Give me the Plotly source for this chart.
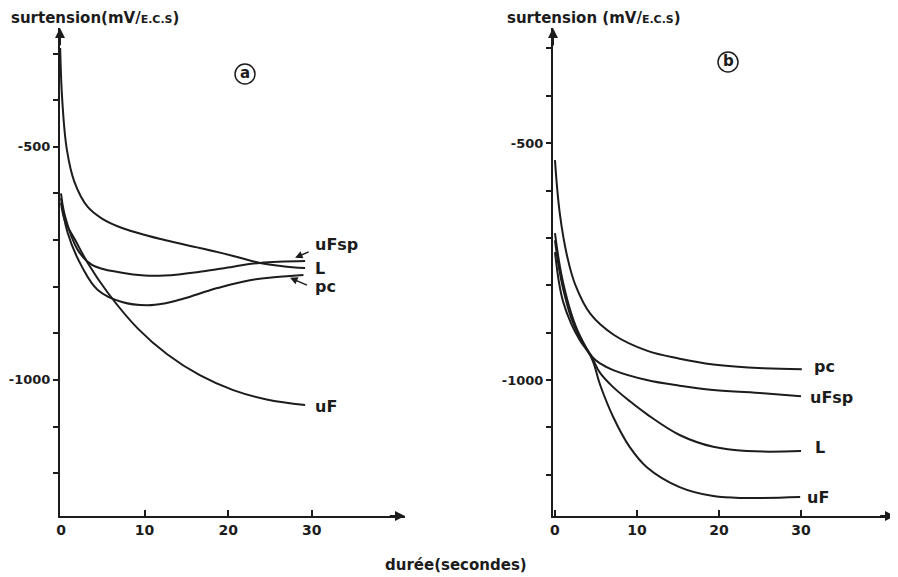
import plotly.graph_objects as go
from plotly.subplots import make_subplots

# panel (a) -- time in s, overvoltage in mV/E.C.S
a_l_t = [-0.1, 0.15, 0.7, 1.6, 3.2, 5.0, 7.3, 12.4, 16.6, 20.6, 23.8, 26.5, 29.2]
a_l_v = [-288, -400, -506, -575, -629, -655, -674, -700, -717, -734, -749, -756, -760]

a_ufsp_t = [0, 0.5, 2.0, 3.7, 7.3, 10.0, 12.4, 16.6, 20.6, 23.8, 29.2]
a_ufsp_v = [-600, -650, -721, -753, -770, -776, -776, -768, -757, -749, -745]

a_pc_t = [0, 0.8, 2.5, 4.4, 7.3, 10.3, 12.4, 14.6, 18.7, 22.6, 27.4, 29.0]
a_pc_v = [-610, -685, -757, -807, -833, -840, -836, -826, -803, -786, -777, -775]

a_uf_t = [0, 0.5, 1.7, 3.2, 5.6, 9.2, 12.7, 16.6, 20.6, 24.6, 29.2]
a_uf_v = [-620, -660, -700, -749, -813, -890, -945, -990, -1022, -1042, -1054]

# panel (b)
b_pc_t = [0, 0.6, 1.5, 2.5, 4.3, 7.2, 11.2, 15.2, 19.3, 25.4, 30.1]
b_pc_v = [-536, -650, -740, -800, -860, -905, -938, -955, -967, -975, -977]

b_ufsp_t = [0, 0.5, 1, 2, 3, 4.5, 5.5, 7.1, 11.2, 15.2, 19.3, 25.4, 30]
b_ufsp_v = [-690, -750, -795, -860, -905, -950, -965, -979, -1000, -1012, -1021, -1028, -1034]

b_l_t = [0, 0.5, 1, 2, 3, 4.5, 5.5, 7.1, 9, 11.2, 15.2, 19.3, 23.4, 30]
b_l_v = [-705, -765, -808, -870, -910, -952, -985, -1015, -1043, -1072, -1116, -1141, -1150, -1150]

b_uf_t = [0, 0.5, 1, 2, 3, 4.5, 5.5, 7.1, 9.1, 11.2, 15.2, 19.3, 23.4, 29.9]
b_uf_v = [-730, -795, -835, -882, -915, -955, -1010, -1078, -1141, -1184, -1226, -1245, -1249, -1247]

x_ticks = [0, 10, 20, 30]
y_ticks = [-300, -400, -500, -600, -700, -800, -900, -1000, -1100, -1200]
y_labels = ['-500', '-1000']

INK = '#1c1c1c'
FONT = 'DejaVu Sans'

# the page body adds an 8px margin, so work in screen pixels minus 8
W, H = 890, 569


def px(x):
    return (x - 8) / W


def py(y):
    return 1 - (y - 8) / H


fig = make_subplots(rows=1, cols=2)

curves = [
    (1, a_l_t, a_l_v), (1, a_ufsp_t, a_ufsp_v), (1, a_pc_t, a_pc_v), (1, a_uf_t, a_uf_v),
    (2, b_pc_t, b_pc_v), (2, b_ufsp_t, b_ufsp_v), (2, b_l_t, b_l_v), (2, b_uf_t, b_uf_v),
]
for col, t, v in curves:
    fig.add_trace(go.Scatter(x=t, y=v, mode='lines', showlegend=False, hoverinfo='skip',
                             line=dict(color=INK, width=2, shape='spline', smoothing=1.1)),
                  row=1, col=col)

xranges = {1: [-0.12, 41.15], 2: [-0.24, 41.46]}
yranges = {1: [-1292, -245], 2: [-1287, -257]}
xdom = {1: [px(60), px(405)], 2: [px(553), px(895)]}
ydom = [py(516), py(28)]

for col in (1, 2):
    ttext = [str(v) if str(v) in y_labels else '' for v in y_ticks]
    fig.update_xaxes(range=xranges[col], domain=xdom[col], showgrid=False, zeroline=False,
                     showline=True, linecolor=INK, linewidth=2, tickvals=x_ticks,
                     ticks='inside', ticklen=6, tickwidth=2, tickcolor=INK, automargin=False,
                     tickfont=dict(family=FONT, size=14, color=INK, weight='bold'), row=1, col=col)
    fig.update_yaxes(range=yranges[col], domain=ydom, showgrid=False, zeroline=False,
                     showline=True, linecolor=INK, linewidth=2, tickvals=y_ticks, ticktext=ttext,
                     ticks='outside', ticklen=5, tickwidth=2, tickcolor=INK, automargin=False,
                     tickfont=dict(family=FONT, size=13, color=INK, weight='bold'), row=1, col=col)
    xr = 'x' if col == 1 else 'x2'
    yr = 'y' if col == 1 else 'y2'
    x0, x1 = xranges[col]
    y0, y1 = yranges[col]
    # arrow heads on both axes
    fig.add_annotation(x=x1, y=y0, ax=x1 - 2, ay=y0, xref=xr, yref=yr, axref=xr, ayref=yr,
                       showarrow=True, arrowhead=2, arrowsize=1, arrowwidth=2, arrowcolor=INK, text='')
    fig.add_annotation(x=x0, y=y1, ax=x0, ay=y1 - 40, xref=xr, yref=yr, axref=xr, ayref=yr,
                       showarrow=True, arrowhead=2, arrowsize=1, arrowwidth=2, arrowcolor=INK, text='')

lab = dict(family=FONT, size=16, color=INK, weight='bold')
title_font = dict(family=FONT, size=15, color=INK, weight='bold')

# axis titles
fig.add_annotation(x=px(9), y=py(18), xref='paper', yref='paper', xanchor='left', yanchor='middle',
                   text="surtension(mV/<span style='font-size:11px'>E.C.S</span>)",
                   showarrow=False, font=title_font)
fig.add_annotation(x=px(505), y=py(18), xref='paper', yref='paper', xanchor='left', yanchor='middle',
                   text="surtension (mV/<span style='font-size:11px'>E.C.S</span>)",
                   showarrow=False, font=title_font)
fig.add_annotation(x=px(456), y=py(565), xref='paper', yref='paper', xanchor='center', yanchor='middle',
                   text='durée(secondes)', showarrow=False, font=title_font)

# panel letters in circles
for cx, cy, letter in [(245, 74, 'a'), (728, 62, 'b')]:
    fig.add_shape(type='circle', xref='paper', yref='paper',
                  x0=px(cx - 10), x1=px(cx + 10), y0=py(cy + 10), y1=py(cy - 10),
                  line=dict(color=INK, width=1.5))
    fig.add_annotation(x=px(cx), y=py(cy - 1), xref='paper', yref='paper', text=letter,
                       xanchor='center', yanchor='middle', showarrow=False,
                       font=dict(family=FONT, size=15, color=INK, weight='bold'))

# curve labels panel (a)
for v, name in [(-710, 'uFsp'), (-760, 'L'), (-800, 'pc'), (-1056, 'uF')]:
    fig.add_annotation(x=30.1, y=v, xref='x', yref='y', text=name, showarrow=False, font=lab,
                       xanchor='left', yanchor='middle')
fig.add_annotation(x=28.0, y=-738, ax=29.8, ay=-724, xref='x', yref='y', axref='x', ayref='y', text='',
                   showarrow=True, arrowhead=2, arrowsize=1, arrowwidth=1.5, arrowcolor=INK)
fig.add_annotation(x=27.4, y=-781, ax=29.6, ay=-798, xref='x', yref='y', axref='x', ayref='y', text='',
                   showarrow=True, arrowhead=2, arrowsize=1, arrowwidth=1.5, arrowcolor=INK)

# curve labels panel (b)
for v, name, dx in [(-972, 'pc', 31.3), (-1036, 'uFsp', 30.9), (-1143, 'L', 31.5), (-1247, 'uF', 30.5)]:
    fig.add_annotation(x=dx, y=v, xref='x2', yref='y2', text=name, showarrow=False, font=lab,
                       xanchor='left', yanchor='middle')

fig.update_layout(width=W, height=H, margin=dict(l=0, r=0, t=0, b=0),
                  paper_bgcolor='white', plot_bgcolor='white', showlegend=False)

fig.write_html("out.html")
